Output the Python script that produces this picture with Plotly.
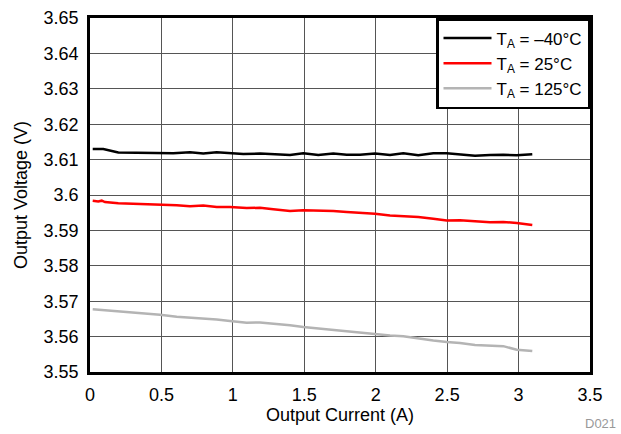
import plotly.graph_objects as go

current_m40 = [0.019, 0.093, 0.198, 0.373, 0.49, 0.583, 0.70, 0.793, 0.887, 0.98, 1.073, 1.19, 1.283, 1.40, 1.493, 1.598, 1.703, 1.797, 1.89, 1.995, 2.10, 2.193, 2.298, 2.403, 2.497, 2.59, 2.695, 2.80, 2.893, 2.987, 3.096]
voltage_m40 = [3.6130, 3.6130, 3.6120, 3.6120, 3.6118, 3.6118, 3.6121, 3.6117, 3.6121, 3.6119, 3.6116, 3.6117, 3.6116, 3.6113, 3.6118, 3.6113, 3.6117, 3.6114, 3.6114, 3.6117, 3.6113, 3.6118, 3.6112, 3.6118, 3.6118, 3.6115, 3.6111, 3.6113, 3.6114, 3.6112, 3.6115]

current_25 = [0.019, 0.058, 0.082, 0.105, 0.198, 0.28, 0.397, 0.49, 0.607, 0.70, 0.793, 0.887, 0.98, 1.097, 1.19, 1.283, 1.40, 1.493, 1.587, 1.703, 1.797, 1.913, 1.995, 2.10, 2.193, 2.298, 2.403, 2.497, 2.59, 2.695, 2.80, 2.893, 2.987, 3.096]
voltage_25 = [3.5984, 3.5982, 3.5984, 3.5980, 3.5977, 3.5976, 3.5973, 3.5973, 3.5971, 3.5968, 3.5970, 3.5966, 3.5966, 3.5963, 3.5964, 3.5960, 3.5955, 3.5957, 3.5957, 3.5955, 3.5952, 3.5949, 3.5947, 3.5942, 3.5941, 3.5938, 3.5933, 3.5928, 3.5929, 3.5926, 3.5923, 3.5924, 3.5921, 3.5915]

current_125 = [0.019, 0.163, 0.303, 0.397, 0.49, 0.607, 0.70, 0.793, 0.887, 0.98, 1.097, 1.19, 1.283, 1.40, 1.493, 1.598, 1.703, 1.797, 1.913, 1.995, 2.10, 2.193, 2.298, 2.403, 2.497, 2.59, 2.695, 2.80, 2.893, 2.987, 3.096]
voltage_125 = [3.5677, 3.5672, 3.5669, 3.5666, 3.5662, 3.5656, 3.5654, 3.5652, 3.5648, 3.5644, 3.5639, 3.5640, 3.5637, 3.5632, 3.5627, 3.5623, 3.5618, 3.5615, 3.5610, 3.5606, 3.5603, 3.5601, 3.5594, 3.5589, 3.5585, 3.5582, 3.5576, 3.5575, 3.5573, 3.5563, 3.5559]

series_names = ["T<sub>A</sub> = \u201340\u00b0C", "T<sub>A</sub> = 25\u00b0C", "T<sub>A</sub> = 125\u00b0C"]
series_colors = ["#000000", "#ff0000", "#b4b4b4"]

FONT = "Liberation Sans, Arial, Helvetica, sans-serif"

fig = go.Figure()
for xs, ys, name, col in zip([current_m40, current_25, current_125],
                             [voltage_m40, voltage_25, voltage_125],
                             series_names, series_colors):
    fig.add_trace(go.Scatter(x=xs, y=ys, mode="lines", name=name,
                             line=dict(color=col, width=2.5)))

fig.update_layout(
    width=621, height=434,
    margin=dict(l=90, r=31, t=18, b=62),
    paper_bgcolor="white", plot_bgcolor="white",
    font=dict(family=FONT, size=18, color="black"),
    showlegend=True,
    legend=dict(x=1, y=1, xanchor="right", yanchor="top",
                bgcolor="white", bordercolor="black", borderwidth=2.5,
                font=dict(family=FONT, size=17), tracegroupgap=0,
                itemwidth=48),
)
fig.update_xaxes(range=[0, 3.5], dtick=0.5, tick0=0, automargin=False,
                 showgrid=True, gridcolor="#555555", gridwidth=1,
                 showline=True, linecolor="black", linewidth=2.5, mirror=True,
                 ticks="outside", ticklen=5, tickcolor="rgba(0,0,0,0)", zeroline=False,
                 title=dict(text="Output Current (A)", font=dict(size=18), standoff=0))
fig.update_yaxes(range=[3.55, 3.65], dtick=0.01, tick0=3.55, automargin=False,
                 showgrid=True, gridcolor="#555555", gridwidth=1,
                 showline=True, linecolor="black", linewidth=2.5, mirror=True,
                 ticks="outside", ticklen=5, tickcolor="rgba(0,0,0,0)", zeroline=False,
                 title=dict(text="Output Voltage (V)", font=dict(size=18), standoff=12))
fig.add_annotation(text="D021", xref="paper", yref="paper", x=1.055, y=-0.145,
                   xanchor="right", yanchor="middle", showarrow=False,
                   font=dict(family=FONT, size=13, color="#999999"))

fig.write_html("out.html", config={"displayModeBar": False},
               post_script="document.body.style.margin='0';")
